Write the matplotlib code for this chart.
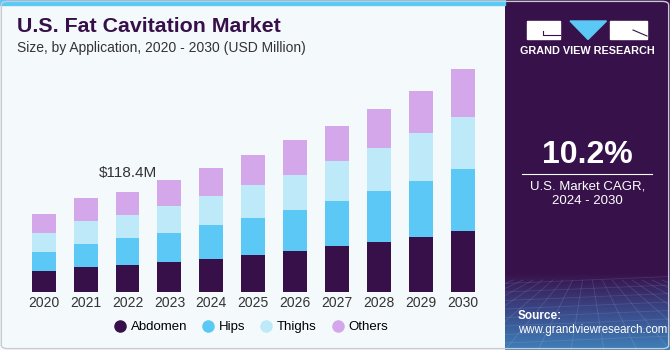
import matplotlib.pyplot as plt
import numpy as np
from matplotlib.colors import LinearSegmentedColormap
from matplotlib.lines import Line2D
from matplotlib.patches import Rectangle, Polygon, FancyBboxPatch

plt.rcParams["font.family"] = ["Liberation Sans", "DejaVu Sans"]

years = ["2020", "2021", "2022", "2023", "2024", "2025", "2026", "2027", "2028", "2029", "2030"]
abdomen = [25.4, 29.8, 31.8, 35.3, 39.5, 43.9, 48.6, 54.1, 59.6, 65.4, 72.5]
hips = [22.4, 27.1, 31.8, 34.8, 40.0, 43.5, 48.6, 53.7, 59.7, 65.9, 73.0]
thighs = [22.4, 27.1, 27.8, 31.8, 34.1, 38.5, 40.8, 46.7, 51.0, 56.1, 61.2]
others = [21.7, 27.1, 27.1, 29.9, 32.6, 35.7, 40.8, 41.5, 45.5, 49.8, 55.8]
series_names = ["Abdomen", "Hips", "Thighs", "Others"]
colors = ["#37104a", "#5bc8f5", "#bde9f9", "#d4a7ea"]
callout_year = "2022"
callout_text = "$118.4M"
cagr_text = "10.2%"

BG = "#f4f9fc"
PANEL = "#37114a"

W, H = 670, 350
fig = plt.figure(figsize=(W / 100, H / 100), dpi=100)
fig.patch.set_facecolor(BG)


def fx(px):
    return px / W


def fy(py):
    return 1 - py / H


# right dark panel, bluish gradient at the bottom
pax = fig.add_axes([fx(505), 0, 1 - fx(505), 1])
pax.set_xlim(0, 1)
pax.set_ylim(0, 1)
pax.axis("off")
pax.add_patch(Rectangle((0, 0), 1, 1, color=PANEL, zorder=0))
cmap = LinearSegmentedColormap.from_list("panel", ["#3f7fb8", "#3a4a8a", PANEL])
g = np.linspace(0, 1, 200)[:, None]
pax.imshow(g, cmap=cmap, vmin=0, vmax=1, extent=[0, 1, 0, 0.22], aspect="auto", origin="lower", zorder=1)
# faint grid decoration
for k in np.linspace(-1, 2, 16):
    pax.plot([k, 0.5 + (k - 0.5) * 0.3], [0, 0.2], color="white", alpha=0.12, lw=0.6, zorder=2)
for yy in np.linspace(0.02, 0.19, 8):
    pax.plot([0, 1], [yy, yy + 0.02], color="white", alpha=0.1, lw=0.6, zorder=2)

pw = W - 505


def px_(x):
    return (x - 505) / pw


def py_(y):
    return 1 - y / H


# logo
pax.add_patch(Rectangle((px_(527), py_(38.5)), px_(560) - px_(527), py_(21) - py_(38.5), color="white", zorder=3))
pax.plot([px_(543), px_(543), px_(560)], [py_(31), py_(34.5), py_(34.5)], color=PANEL, lw=0.8, zorder=4)
pax.add_patch(Polygon([(px_(570), py_(21)), (px_(606.5), py_(21)), (px_(588), py_(39.5))], color="#5bc8f5", zorder=3))
pax.add_patch(Rectangle((px_(610), py_(38.5)), px_(647) - px_(610), py_(21) - py_(38.5), color="white", zorder=3))
pax.plot([px_(633), px_(647)], [py_(30), py_(36)], color=PANEL, lw=0.8, zorder=4)
fig.text(fx(587), fy(51), "GRAND VIEW RESEARCH", color="white", fontsize=7.8, fontweight="bold",
         ha="center", va="center")

fig.text(fx(587.5), fy(155), cagr_text, color="white", fontsize=23, fontweight="bold", ha="center", va="center")
fig.add_artist(Line2D([fx(522), fx(652)], [fy(173.5), fy(173.5)], color="white", lw=0.8))
fig.text(fx(587.5), fy(186), "U.S. Market CAGR,", color="white", fontsize=9.5, ha="center", va="center")
fig.text(fx(587.5), fy(201), "2024 - 2030", color="white", fontsize=9.5, ha="center", va="center")
fig.text(fx(518), fy(316), "Source:", color="white", fontsize=8.5, fontweight="bold", ha="left", va="center")
fig.text(fx(518), fy(330), "www.grandviewresearch.com", color="white", fontsize=8.3, ha="left", va="center")

# top cyan strip over the chart side
fig.add_artist(Rectangle((0, fy(5)), fx(505), fy(0) - fy(5), color="#5bc8f5", transform=fig.transFigure))

# titles
fig.text(fx(17), fy(26), "U.S. Fat Cavitation Market", color="#37104a", fontsize=15.4, fontweight="bold",
         ha="left", va="center")
fig.text(fx(17), fy(48), "Size, by Application, 2020 - 2030 (USD Million)", color="#333333", fontsize=10,
         ha="left", va="center")

# stacked bars
ax = fig.add_axes([fx(18.5), fy(292.3), fx(488) - fx(18.5), fy(60) - fy(292.3)])
ax.set_facecolor("none")
x = np.arange(len(years))
bottom = np.zeros(len(years))
for vals, name, c in zip([abdomen, hips, thighs, others], series_names, colors):
    ax.bar(x, vals, bottom=bottom, width=0.57, color=c, label=name, edgecolor="none")
    bottom += np.array(vals)
ax.set_xlim(-0.6, 10.6)
ax.set_ylim(0, 273.4)
ax.set_xticks(x)
ax.set_xticklabels(years, fontsize=10, color="#333333")
ax.tick_params(axis="x", length=0, pad=3)
ax.set_yticks([])
for s in ax.spines.values():
    s.set_visible(False)

i = years.index(callout_year)
ax.annotate(callout_text, (x[i], bottom[i]), xytext=(0, 13.5), textcoords="offset points",
            ha="center", va="center", fontsize=11, color="#333333")

handles = [Line2D([], [], marker="o", ls="", color=c, markersize=8) for c in colors]
fig.legend(handles, series_names, loc="center", bbox_to_anchor=(fx(250), fy(327)), ncol=4, frameon=False,
           fontsize=9.5, handletextpad=0.2, columnspacing=1.0, handlelength=1.2)

# outer border
fig.add_artist(FancyBboxPatch((0.002, 0.004), 0.996, 0.992, boxstyle="round,pad=0,rounding_size=0.01",
                              fill=False, edgecolor="#c8ccd2", lw=1, transform=fig.transFigure))

fig.savefig("out.png", dpi=100, facecolor=fig.get_facecolor())
